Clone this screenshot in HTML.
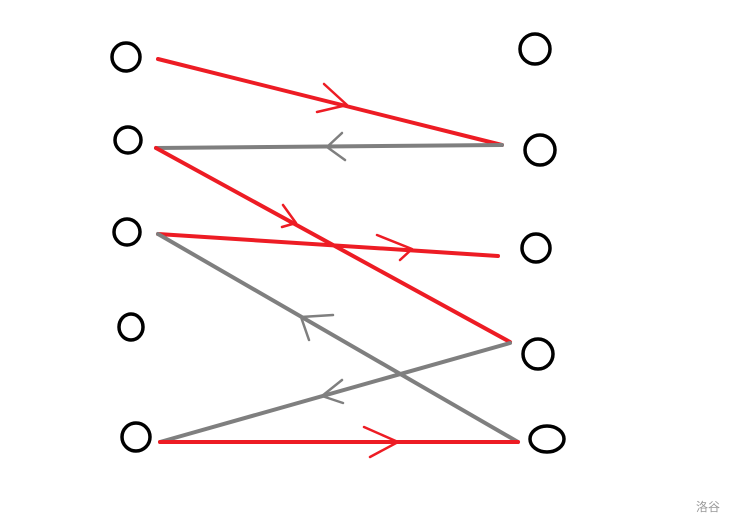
<!DOCTYPE html>
<html><head><meta charset="utf-8"><style>
html,body{margin:0;padding:0;background:#fff;width:736px;height:526px;overflow:hidden}
svg{display:block}
</style></head><body>
<svg width="736" height="526" viewBox="0 0 736 526" xmlns="http://www.w3.org/2000/svg">
<g fill="none" stroke="#000" stroke-width="3.5">
<ellipse cx="126" cy="57" rx="14" ry="14"/>
<ellipse cx="128" cy="140" rx="13" ry="13"/>
<ellipse cx="127" cy="232" rx="13" ry="13"/>
<ellipse cx="131" cy="327" rx="12" ry="13"/>
<ellipse cx="136" cy="437" rx="14" ry="14"/>
<ellipse cx="535" cy="49" rx="15" ry="15"/>
<ellipse cx="540" cy="150" rx="15" ry="15"/>
<ellipse cx="536" cy="248" rx="14" ry="14"/>
<ellipse cx="538" cy="354" rx="15" ry="15"/>
<ellipse cx="547" cy="439" rx="17" ry="13"/>
</g>
<g stroke-linecap="round" stroke-width="4" fill="none">
<line x1="158" y1="59" x2="502" y2="145" stroke="#ed1c24"/>
<line x1="502" y1="145" x2="156" y2="148" stroke="#7f7f7f"/>
<line x1="156" y1="148" x2="510" y2="342" stroke="#ed1c24"/>
<line x1="158" y1="234" x2="498" y2="256" stroke="#ed1c24"/>
<line x1="158" y1="234" x2="518" y2="442" stroke="#7f7f7f"/>
<line x1="510" y1="343" x2="160" y2="442" stroke="#7f7f7f"/>
<line x1="160" y1="442" x2="518" y2="442" stroke="#ed1c24"/>
</g>
<g stroke-linecap="round" stroke-linejoin="round" stroke-width="2.5" fill="none">
<polyline points="324,84 347,105 317,112" stroke="#ed1c24"/>
<polyline points="342,133 327,147 345,160" stroke="#7f7f7f"/>
<polyline points="283,205 296,223 282,227" stroke="#ed1c24"/>
<polyline points="377,235 412,249 400,260" stroke="#ed1c24"/>
<polyline points="333,315 301,317 309,340" stroke="#7f7f7f"/>
<polyline points="342,380 322,396 343,403" stroke="#7f7f7f"/>
<polyline points="364,427 398,442 370,457" stroke="#ed1c24"/>
</g>
<text x="696" y="511" font-family="'Liberation Sans','Noto Sans CJK SC',sans-serif" font-size="12" fill="#999">洛谷</text>
</svg>
</body></html>
